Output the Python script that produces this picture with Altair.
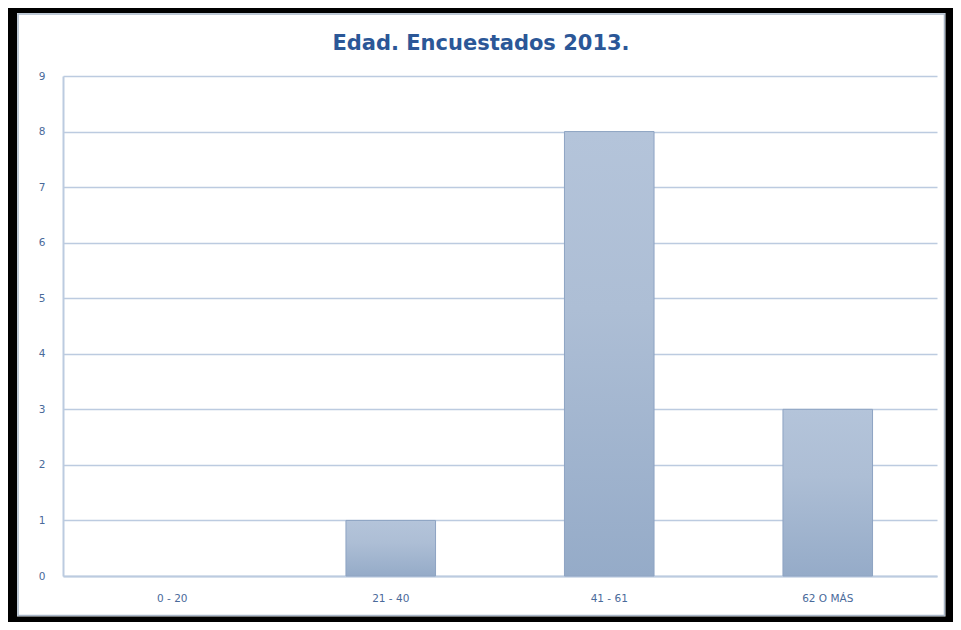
import altair as alt
import pandas as pd

categories = ["0 - 20", "21 - 40", "41 - 61", "62 O MÁS"]
values = [0, 1, 8, 3]
y_ticks = [0, 1, 2, 3, 4, 5, 6, 7, 8, 9]
title_text = "Edad. Encuestados 2013."

df = pd.DataFrame({"cat": categories, "val": values})
one = pd.DataFrame({"t": [title_text]})

W, H = 874, 500

frame_black = alt.Chart(one).mark_rect(
    fill=None, stroke="#000000", strokeWidth=9, clip=False
).encode(
    x=alt.value(-50.5), x2=alt.value(887), y=alt.value(-67.5), y2=alt.value(545)
)

frame_inner = alt.Chart(one).mark_rect(
    fill=None, stroke="#a8b6c8", strokeWidth=1.5, clip=False
).encode(
    x=alt.value(-45), x2=alt.value(881.5), y=alt.value(-62), y2=alt.value(539.5)
)

title = alt.Chart(one).mark_text(
    font="DejaVu Sans", fontSize=21, fontWeight="bold", color="#2b5797",
    align="center", baseline="alphabetic", clip=False
).encode(
    text="t:N", x=alt.value(418), y=alt.value(-26)
)

grad = alt.Gradient(
    gradient="linear",
    stops=[
        alt.GradientStop(color="#b4c4da", offset=0),
        alt.GradientStop(color="#adbed5", offset=0.4),
        alt.GradientStop(color="#95abc8", offset=1),
    ],
    x1=0, x2=0, y1=0, y2=1,
)

bars = alt.Chart(df).mark_bar(
    fill=grad, stroke="#8ea4c3", strokeWidth=1
).encode(
    x=alt.X("cat:N", sort=categories, title=None,
            scale=alt.Scale(paddingInner=0.59, paddingOuter=0.295),
            axis=alt.Axis(labelAngle=0, labelPadding=17, ticks=False,
                          domainColor="#bccbe0", domainWidth=2,
                          labelColor="#4a6a9a", labelFont="DejaVu Sans",
                          labelFontSize=10.5, grid=False)),
    y=alt.Y("val:Q", title=None,
            scale=alt.Scale(domain=[0, 9], nice=False),
            axis=alt.Axis(values=y_ticks, ticks=False, labelPadding=18,
                          domainColor="#bccbe0", domainWidth=2,
                          gridColor="#bccbe0", gridWidth=1.5,
                          labelColor="#4a6a9a", labelFont="DejaVu Sans",
                          labelFontSize=10.5)),
    opacity=alt.condition(alt.datum.val > 0, alt.value(1), alt.value(0)),
)

chart = alt.layer(frame_inner, bars, frame_black, title).properties(
    width=W, height=H,
    padding={"left": 55, "top": 68, "right": 16, "bottom": 46},
    autosize=alt.AutoSizeParams(type="none"),
    background="white",
).configure_view(stroke=None)

chart.save("out.html", embed_options={"renderer": "svg", "actions": False})
